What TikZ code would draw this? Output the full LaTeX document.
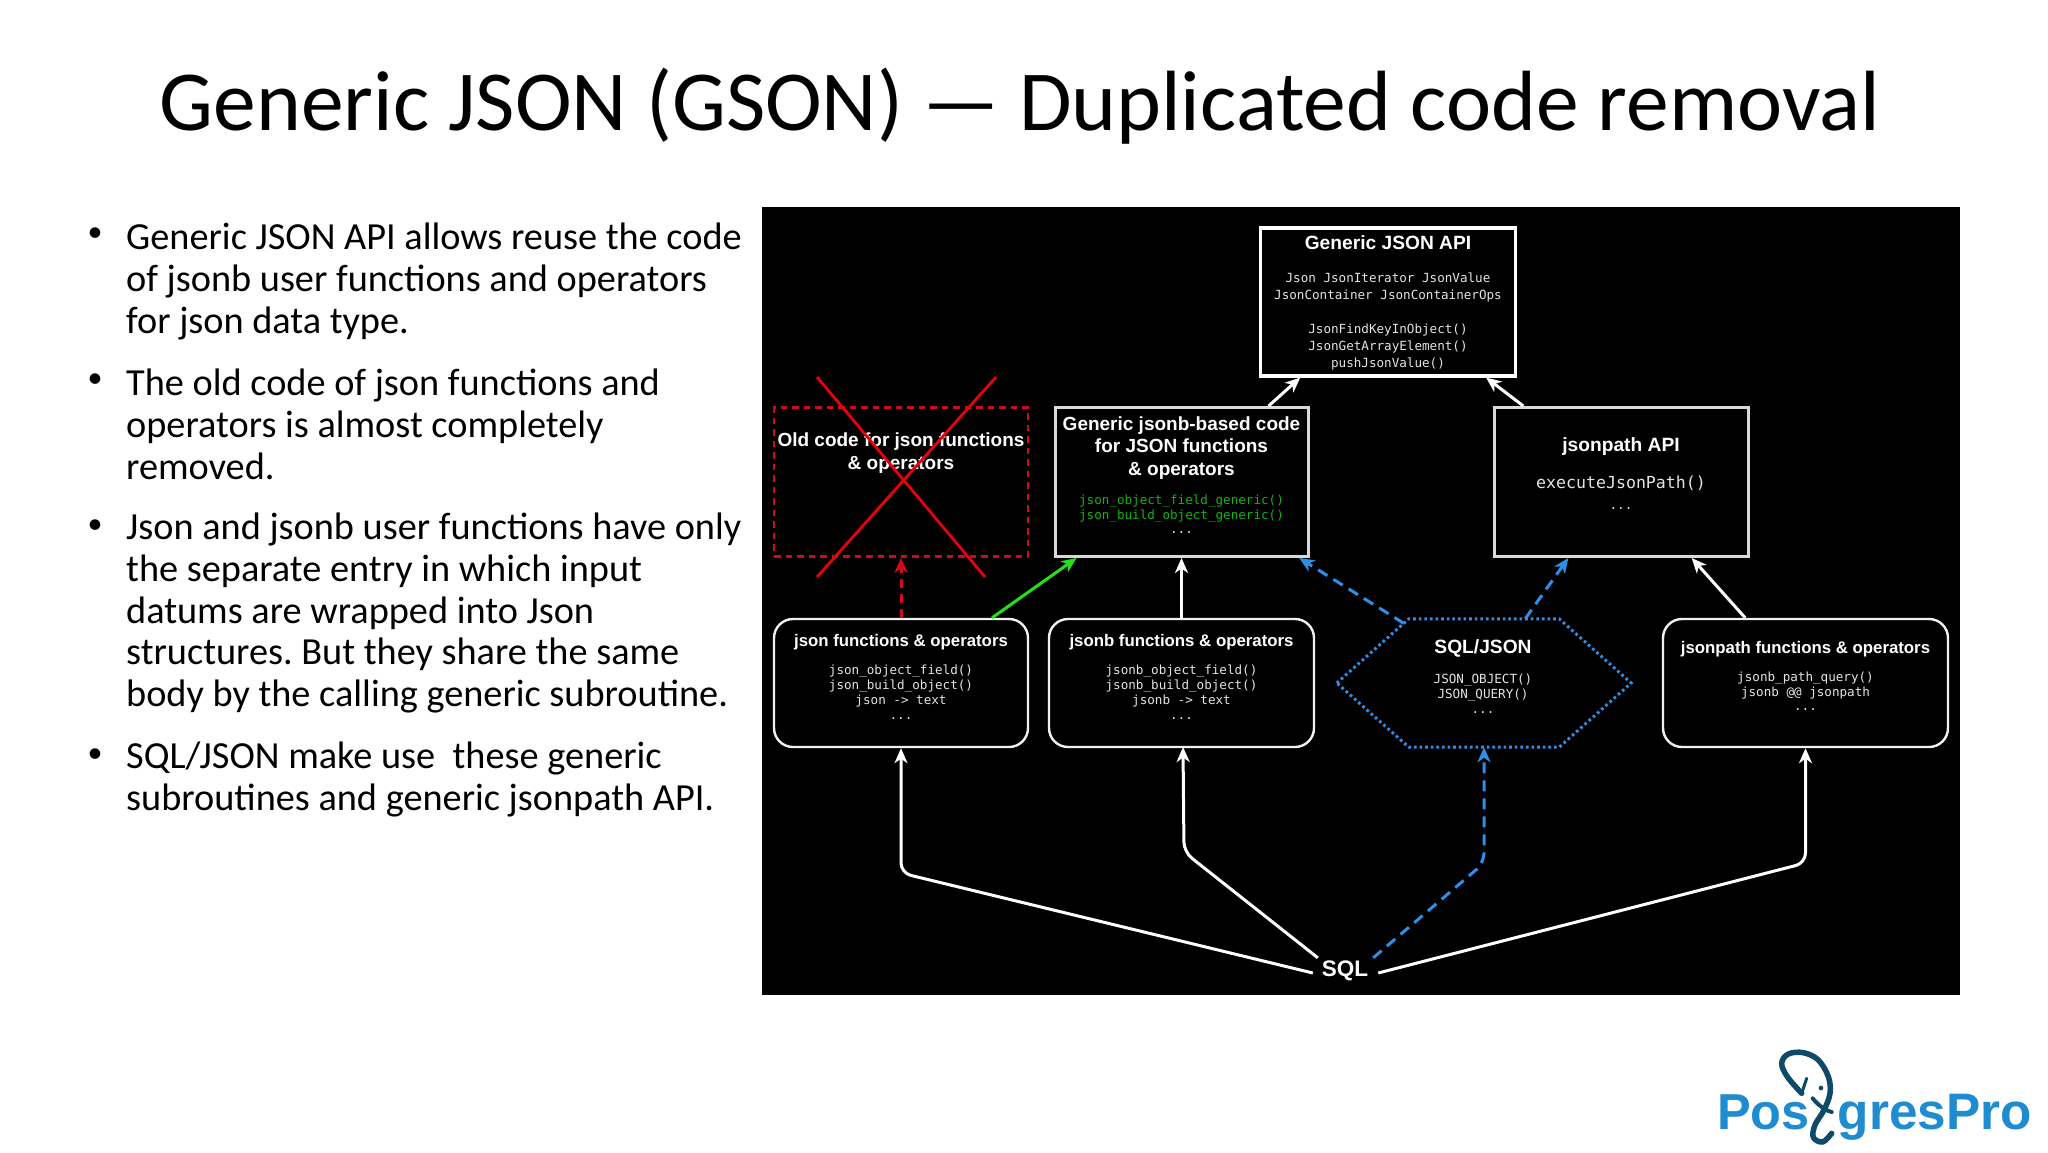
\documentclass[tikz,border=0pt]{standalone}
\usepackage{fontspec}
\setmainfont{Carlito}
\setsansfont{Liberation Sans}
\setmonofont{DejaVu Sans Mono}
\usetikzlibrary{arrows.meta,calc}
\definecolor{bluedash}{HTML}{2E8EE8}
\definecolor{reddash}{HTML}{D00A1E}
\definecolor{crossred}{HTML}{E8000C}
\definecolor{greenline}{HTML}{22E01C}
\definecolor{greentext}{HTML}{12B412}
\definecolor{logoblue}{HTML}{1E8CCE}
\definecolor{logodark}{HTML}{0E4A68}
\definecolor{monogray}{HTML}{E4E4E4}
\frenchspacing
\tikzset{
  x=1pt,y=-1pt,
  sqbox/.style={draw=white,line width=3.2pt,rectangle,inner sep=0,fill=black},
  graybox/.style={draw=white!85!black,line width=3pt,rectangle,inner sep=0,fill=black},
  oldbox/.style={draw=reddash,line width=2.6pt,dash pattern=on 6.5pt off 5pt,rectangle,inner sep=0},
  rndbox/.style={draw=white!94!black,line width=2.4pt,rectangle,rounded corners=19pt,inner sep=0,fill=black},
  hexref/.style={rectangle,inner sep=0},
  hexline/.style={draw=bluedash,line width=3pt,dash pattern=on 2.6pt off 3pt},
  ttl/.style={font=\sffamily\bfseries\fontsize{19.2}{22}\selectfont,text=white,align=center,inner sep=0},
  ttlsmall/.style={ttl,font=\sffamily\bfseries\fontsize{16.8}{20}\selectfont},
  ttlmid/.style={ttl,font=\sffamily\bfseries\fontsize{19}{22.2}\selectfont},
  mono/.style={font=\ttfamily\fontsize{12.6}{15}\selectfont,text=monogray,align=center,inner sep=0},
  monowide/.style={mono,font=\ttfamily\fontsize{12.6}{17}\selectfont},
  conn/.style={draw=white,line width=3pt,-{Stealth[length=15pt,width=13pt,inset=4.5pt]},rounded corners=10pt},
  conngreen/.style={conn,draw=greenline},
  connblue/.style={conn,draw=bluedash,dash pattern=on 11pt off 7pt},
  connred/.style={conn,draw=reddash,dash pattern=on 9pt off 6pt},
  cross/.style={draw=crossred,line width=2.8pt},
  bodytext/.style={font=\fontsize{38.3}{41.6}\selectfont,text=black,align=left,anchor=north west,inner sep=0},
  bullet/.style={font=\fontsize{30}{36}\selectfont,text=black,inner sep=0},
  logotext/.style={font=\sffamily\bfseries\fontsize{50.5}{54}\selectfont,text=logoblue,inner sep=0},
  logotextb/.style={logotext,font=\sffamily\bfseries\fontsize{51.3}{54}\selectfont},
  elephant/.style={draw=logodark,line width=5.5pt,line cap=round,line join=round}
}
\begin{document}
\begin{tikzpicture}
\useasboundingbox (0,0) rectangle (2048,1152);
\fill[white] (0,0) rectangle (2048,1152);
\node[font=\fontsize{85.5}{95}\selectfont,text=black,inner sep=0] (title) at (1020,106) {Generic JSON (GSON) — Duplicated code removal};

% left text
\node[bullet] (b1) at (95,235) {•};
\node[bodytext] (p1) at (126,223) {Generic JSON API allows reuse the code\\of jsonb user functions and operators\\for json data type.};
\node[bullet] (b2) at (95,381) {•};
\node[bodytext] (p2) at (126,369) {The old code of json functions and\\operators is almost completely\\removed.};
\node[bullet] (b3) at (95,527) {•};
\node[bodytext] (p3) at (126,513) {Json and jsonb user functions have only\\the separate entry in which input\\datums are wrapped into Json\\structures. But they share the same\\body by the calling generic subroutine.};
\node[bullet] (b4) at (95,756) {•};
\node[bodytext] (p4) at (126,742) {SQL/JSON make use\ \ these generic\\subroutines and generic jsonpath API.};

% panel
\fill[black] (762,207) rectangle (1960,995);

% boxes
\node[sqbox,minimum width=255pt,minimum height=148pt] (api) at (1388,302) {};
\node[oldbox,minimum width=254pt,minimum height=149pt] (old) at (901,482) {};
\node[graybox,minimum width=253pt,minimum height=149pt] (gen) at (1181.5,482) {};
\node[graybox,minimum width=254pt,minimum height=149pt] (jp) at (1621,482) {};
\node[rndbox,minimum width=254pt,minimum height=128pt] (json) at (901,683) {};
\node[rndbox,minimum width=265pt,minimum height=128pt] (jsonb) at (1181.5,683) {};
\node[rndbox,minimum width=285pt,minimum height=128pt] (jpf) at (1805.5,683) {};
\node[hexref,minimum width=294pt,minimum height=128pt] (hex) at (1484,683) {};
\draw[hexline] (hex.west) -- ($(hex.north west)+(72,0)$) -- ($(hex.north east)+(-72,0)$) -- (hex.east) -- ($(hex.south east)+(-72,0)$) -- ($(hex.south west)+(72,0)$) -- cycle;

% box texts
\node[ttl] (apit) at (1388,243) {Generic JSON API};
\node[mono] (apim) at (1388,278) {Json JsonIterator JsonValue};
\node[mono] (apim2) at (1388,296) {JsonContainer JsonContainerOps};
\node[monowide] (apim3) at (1388,347) {JsonFindKeyInObject()\\JsonGetArrayElement()\\pushJsonValue()};
\node[ttlmid] (oldt) at (901,453) {Old code for json functions\\\& operators};
\node[ttlmid] (gent) at (1181.5,448) {Generic jsonb-based code\\for JSON functions\\\& operators};
\node[mono,text=greentext] (genm) at (1181.5,509) {json\_object\_field\_generic()\\json\_build\_object\_generic()};
\node[mono] (gend) at (1181.5,533) {...};
\node[ttl] (jpt) at (1621,447) {jsonpath API};
\node[mono,font=\ttfamily\fontsize{16.6}{20}\selectfont] (jpm) at (1621,483) {executeJsonPath()};
\node[mono] (jpd) at (1621,509) {...};
\node[ttlsmall] (jsont) at (901,642) {json functions \& operators};
\node[mono] (jsonm) at (901,686) {json\_object\_field()\\json\_build\_object()\\json -> text};
\node[mono] (jsond) at (901,719) {...};
\node[ttlsmall] (jsonbt) at (1181.5,642) {jsonb functions \& operators};
\node[mono] (jsonbm) at (1181.5,686) {jsonb\_object\_field()\\jsonb\_build\_object()\\jsonb -> text};
\node[mono] (jsonbd) at (1181.5,719) {...};
\node[ttl] (hext) at (1483,648) {SQL/JSON};
\node[mono] (hexm) at (1483,688) {JSON\_OBJECT()\\JSON\_QUERY()};
\node[mono] (hexd) at (1483,713) {...};
\node[ttlsmall] (jpft) at (1805.5,649) {jsonpath functions \& operators};
\node[mono] (jpfm) at (1805.5,686) {jsonb\_path\_query()\\jsonb @@ jsonpath};
\node[mono] (jpfd) at (1805.5,710) {...};
\node[ttl,font=\sffamily\bfseries\fontsize{22.5}{26}\selectfont,minimum width=58pt,minimum height=26pt] (sql) at (1345,971) {SQL};

% free-end points
\coordinate (c1) at (901,873);
\coordinate (c2) at (1184,852);
\coordinate (c3) at (1484,863);
\coordinate (c4) at (1805.5,863);
\coordinate (s1) at ($(sql.west)+(-3,2)$);
\coordinate (s2) at ($(sql.north west)+(2,0)$);
\coordinate (s3) at ($(sql.north east)+(-1,0)$);
\coordinate (s4) at ($(sql.east)+(4,2)$);
\coordinate (hexnw) at ($(hex.north west)+(72,0)$);

% connectors
\draw[conn] (s1) -- (c1) -- (json.south);
\draw[conn] (s2) -- (c2) -- (1183,747);
\draw[connblue] (s3) -- (c3) -- (hex.south);
\draw[conn] (s4) -- (c4) -- (jpf.south);
\draw[connred] (json.north) -- (old.south);
\draw[conngreen] ($(json.north west)!0.855!(json.north east)$) -- ($(gen.south west)!0.09!(gen.south east)$);
\draw[conn] (jsonb.north) -- (gen.south);
\draw[connblue] ($(hex.west)!0.93!(hexnw)$) -- ($(gen.south west)!0.96!(gen.south east)$);
\draw[connblue] ($(hex.north west)!0.64!(hex.north east)$) -- ($(jp.south west)!0.295!(jp.south east)$);
\draw[conn] ($(jpf.north west)!0.29!(jpf.north east)$) -- ($(jp.south west)!0.775!(jp.south east)$);
\draw[conn] ($(gen.north west)!0.84!(gen.north east)$) -- ($(api.south west)!0.16!(api.south east)$);
\draw[conn] ($(jp.north west)!0.12!(jp.north east)$) -- ($(api.south west)!0.88!(api.south east)$);

% cross
\draw[cross] (817,377) -- (985,577);
\draw[cross] (996,377) -- (817,577);

% logo
\node[logotext,anchor=base west] (lg1) at (1717,1129) {Pos};
\node[logotextb,anchor=base east] (lg2) at (2032,1129) {gresPro};
\begin{scope}[shift={(1700,1030)},scale=0.3333]
\draw[elephant] plot[smooth,tension=.6] coordinates {(305,190) (262,140) (245,100) (265,72) (310,68) (355,90) (385,140) (390,190) (372,240) (345,285) (340,322) (368,336) (395,310)};
\draw[elephant,line width=3pt] (305,190) -- (320,145);
\draw[elephant,line width=4pt] (338,205) .. controls (352,222) and (372,240) .. (395,246);
\fill[logodark] (363,174) circle (7);
\end{scope}
\end{tikzpicture}
\end{document}
